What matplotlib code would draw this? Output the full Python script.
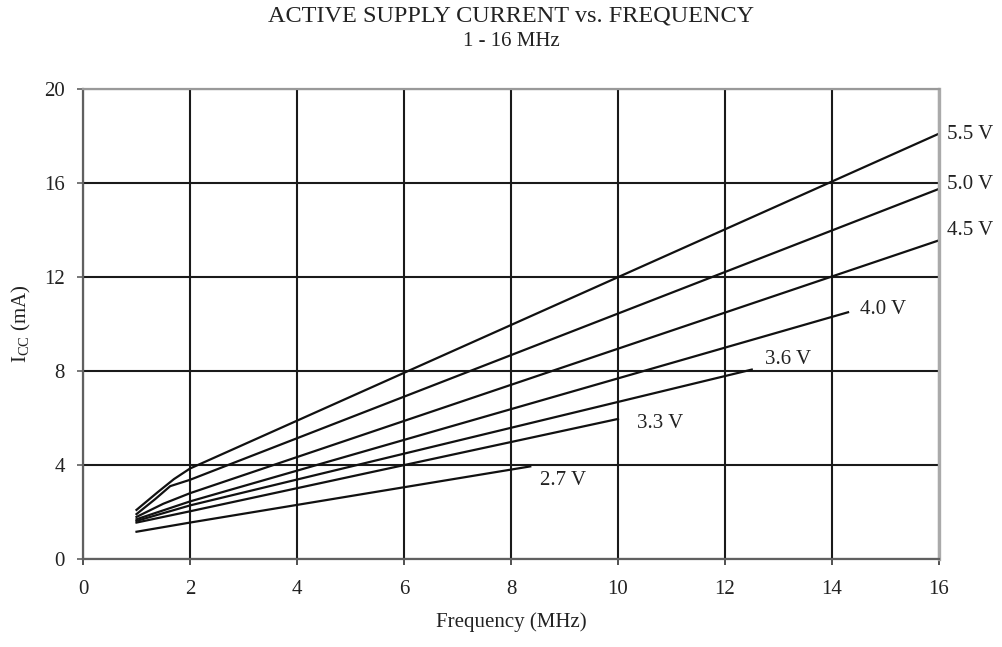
import matplotlib
matplotlib.use("Agg")
import matplotlib.pyplot as plt

plt.rcParams["font.family"] = ["Liberation Serif", "DejaVu Serif"]
plt.rcParams["mathtext.fontset"] = "custom"
plt.rcParams["mathtext.rm"] = "Liberation Serif"
plt.rcParams["mathtext.it"] = "Liberation Serif:italic"

# Supply voltages and their current-vs-frequency curves (MHz, mA)
voltages = ["5.5 V", "5.0 V", "4.5 V", "4.0 V", "3.6 V", "3.3 V", "2.7 V"]

freq_55 = [1.0, 1.4, 1.7, 2.0, 16.0]
icc_55 = [2.09, 2.85, 3.40, 3.85, 18.10]

freq_50 = [1.0, 1.35, 1.63, 2.0, 16.0]
icc_50 = [1.91, 2.55, 3.10, 3.37, 15.75]

freq_45 = [1.0, 1.5, 2.0, 16.0]
icc_45 = [1.79, 2.35, 2.80, 13.56]

freq_40 = [1.0, 2.0, 14.3]
icc_40 = [1.69, 2.45, 10.50]

freq_36 = [1.0, 2.0, 12.5]
icc_36 = [1.62, 2.28, 8.06]

freq_33 = [1.0, 2.0, 10.0]
icc_33 = [1.55, 2.03, 5.96]

freq_27 = [1.0, 2.0, 8.36]
icc_27 = [1.16, 1.55, 3.94]

series_freq = [freq_55, freq_50, freq_45, freq_40, freq_36, freq_33, freq_27]
series_icc = [icc_55, icc_50, icc_45, icc_40, icc_36, icc_33, icc_27]

# Label anchor positions (left edge, vertical centre) in data units
label_x = [16.15, 16.15, 16.15, 14.52, 12.75, 10.35, 8.54]
label_y = [18.05, 15.93, 13.97, 10.6, 8.5, 5.78, 3.33]

x_ticks = [0, 2, 4, 6, 8, 10, 12, 14, 16]
y_ticks = [0, 4, 8, 12, 16, 20]

fig = plt.figure(figsize=(10.02, 6.47), dpi=100)
ax = fig.add_axes([83 / 1002, 1 - 559 / 647, (939 - 83) / 1002, (559 - 89) / 647])

ax.set_xlim(0, 16)
ax.set_ylim(0, 20)
ax.set_xticks(x_ticks)
ax.set_yticks(y_ticks)

# Grid
ax.grid(True, color="#1a1a1a", linewidth=1.5)
ax.set_axisbelow(True)

for fx, iy in zip(series_freq, series_icc):
    ax.plot(fx, iy, color="#111111", linewidth=1.6, solid_joinstyle="round")

for lab, lx, ly in zip(voltages, label_x, label_y):
    ax.text(lx, ly, lab, fontsize=15, ha="left", va="center", color="#222222",
            clip_on=False)

for side, col, lw in [("left", "#606060", 1.6), ("bottom", "#606060", 1.6),
                      ("top", "#999999", 1.6), ("right", "#aaaaaa", 2.4)]:
    ax.spines[side].set_color(col)
    ax.spines[side].set_linewidth(lw)

ax.tick_params(axis="y", direction="out", length=4.5, width=1.2, color="#606060",
               labelsize=15, labelcolor="#222222", pad=8.5)
ax.tick_params(axis="x", direction="out", length=4, width=1.2, color="#333333",
               labelsize=15, labelcolor="#222222", pad=11)

ax.set_xlabel("Frequency (MHz)", fontsize=15, color="#222222", labelpad=9.5)
ax.set_ylabel(r"I$_{\mathrm{CC}}$ (mA)", fontsize=15, color="#222222", labelpad=8)

fig.text(0.5105, 1 - 16 / 647, "ACTIVE SUPPLY CURRENT vs. FREQUENCY", fontsize=17.5,
         ha="center", va="center", color="#222222")
fig.text(0.5105, 1 - 41 / 647, "1 - 16 MHz", fontsize=15,
         ha="center", va="center", color="#222222")

fig.savefig("out.png", dpi=100)
